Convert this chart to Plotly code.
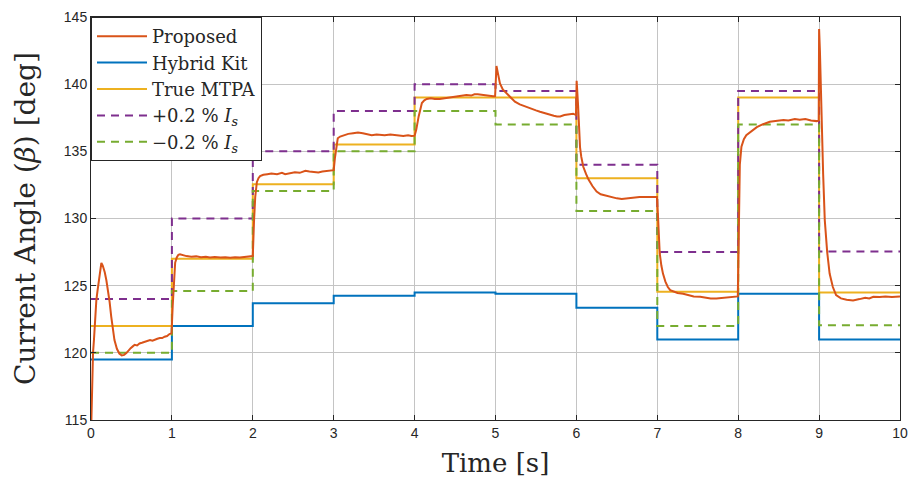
import plotly.graph_objects as go

# ---- data ----
step_t = [0, 1, 2, 3, 4, 5, 6, 7, 8, 9, 10]
hybrid_kit = [119.5, 122.0, 123.7, 124.25, 124.5, 124.4, 123.35, 121.0, 124.4, 121.0, 121.0]
true_mtpa = [122.0, 127.0, 132.55, 135.5, 139.0, 139.0, 133.0, 124.55, 139.0, 124.5, 124.5]
plus_02 = [124.0, 130.0, 135.0, 138.0, 140.0, 139.5, 134.0, 127.5, 139.5, 127.55, 127.55]
minus_02 = [120.0, 124.6, 132.05, 135.0, 138.0, 137.0, 130.55, 122.0, 137.0, 122.05, 122.05]

prop_t = [0.005, 0.012, 0.025, 0.037, 0.05, 0.066, 0.08, 0.095, 0.11, 0.128, 0.145, 0.17, 0.19, 0.21,
          0.23, 0.25, 0.27, 0.29, 0.32, 0.35, 0.38, 0.41, 0.44, 0.46, 0.49, 0.52, 0.54, 0.57, 0.6,
          0.63, 0.66, 0.7, 0.73, 0.76, 0.79, 0.82, 0.85, 0.88, 0.91, 0.94, 0.97, 0.995,
          1.01, 1.025, 1.04, 1.06, 1.08, 1.1, 1.14, 1.18, 1.24, 1.3, 1.36, 1.42, 1.47, 1.53, 1.6,
          1.66, 1.72, 1.78, 1.84, 1.9, 1.97, 2.0,
          2.015, 2.03, 2.05, 2.07, 2.09, 2.13, 2.18, 2.23, 2.3, 2.36, 2.4, 2.46, 2.52, 2.58, 2.65,
          2.7, 2.75, 2.81, 2.86, 2.92, 2.97, 3.0,
          3.015, 3.03, 3.05, 3.08, 3.12, 3.18, 3.24, 3.3, 3.36, 3.42, 3.47, 3.53, 3.58, 3.63, 3.7,
          3.76, 3.8, 3.86, 3.92, 3.96, 4.0,
          4.02, 4.05, 4.07, 4.09, 4.12, 4.15, 4.2, 4.25, 4.31, 4.36, 4.42, 4.47, 4.52, 4.58, 4.64,
          4.7, 4.74, 4.78, 4.83, 4.88, 4.93, 4.97, 4.995,
          5.005, 5.012, 5.03, 5.055, 5.09, 5.14, 5.19, 5.24, 5.3, 5.38, 5.44, 5.5, 5.55, 5.6, 5.66,
          5.72, 5.76, 5.8, 5.85, 5.9, 5.96, 5.995,
          6.003, 6.02, 6.045, 6.06, 6.085, 6.12, 6.15, 6.2, 6.25, 6.3, 6.36, 6.42, 6.5, 6.56, 6.62,
          6.66, 6.72, 6.78, 6.84, 6.91, 6.96, 6.995,
          7.01, 7.03, 7.05, 7.07, 7.1, 7.13, 7.16, 7.2, 7.25, 7.32, 7.38, 7.45, 7.53, 7.6, 7.66,
          7.73, 7.8, 7.87, 7.94, 7.995,
          8.005, 8.01, 8.02, 8.04, 8.07, 8.1, 8.16, 8.23, 8.3, 8.39, 8.46, 8.56, 8.62, 8.7, 8.76,
          8.83, 8.9, 8.97, 8.995,
          9.0, 9.01, 9.02, 9.03, 9.05, 9.07, 9.1, 9.13, 9.17, 9.21, 9.27, 9.34, 9.42, 9.5, 9.57,
          9.62, 9.67, 9.75, 9.82, 9.9, 9.96, 10.0]
prop_v = [115.0, 117.5, 120.0, 121.0, 122.6, 123.9, 124.6, 125.2, 126.0, 126.7, 126.5, 126.0, 125.4, 124.7,
          123.8, 122.7, 121.7, 120.95, 120.3, 119.95, 119.8, 119.85, 120.0, 120.15, 120.35, 120.5, 120.6, 120.55, 120.7,
          120.75, 120.8, 120.85, 120.95, 120.9, 121.0, 121.05, 121.1, 121.1, 121.2, 121.25, 121.4, 121.45,
          123.5, 125.4, 126.7, 127.1, 127.3, 127.33, 127.25, 127.2, 127.15, 127.18, 127.12, 127.15, 127.1, 127.13, 127.1,
          127.12, 127.08, 127.12, 127.1, 127.13, 127.15, 127.2,
          129.8, 131.6, 132.7, 133.0, 133.15, 133.25, 133.3, 133.35, 133.3, 133.4, 133.3, 133.4, 133.45, 133.4, 133.55,
          133.5, 133.45, 133.43, 133.5, 133.55, 133.6, 133.6,
          134.5, 135.3, 135.97, 136.1, 136.2, 136.3, 136.35, 136.4, 136.35, 136.25, 136.2, 136.25, 136.2, 136.2, 136.25,
          136.2, 136.2, 136.15, 136.2, 136.14, 136.15,
          136.6, 137.6, 138.2, 138.6, 138.8, 138.9, 138.95, 138.9, 138.9, 138.95, 139.0, 139.05, 139.07, 139.15, 139.2,
          139.15, 139.25, 139.25, 139.2, 139.15, 139.15, 139.1, 139.1,
          140.6, 141.35, 140.8, 140.06, 139.6, 139.3, 139.0, 138.7, 138.5, 138.3, 138.2, 138.05, 137.95, 137.85, 137.75,
          137.65, 137.6, 137.6, 137.7, 137.75, 137.8, 137.7,
          140.25, 138.5, 135.3, 134.6, 133.85, 133.3, 132.9, 132.4, 132.0, 131.8, 131.7, 131.6, 131.5, 131.45, 131.5,
          131.5, 131.55, 131.6, 131.6, 131.6, 131.65, 131.6,
          130.0, 127.4, 126.5, 125.9, 125.3, 124.9, 124.67, 124.55, 124.45, 124.4, 124.3, 124.2, 124.17, 124.1, 124.05,
          124.05, 124.1, 124.15, 124.17, 124.2,
          128.0, 132.4, 134.0, 135.35, 135.9, 136.2, 136.5, 136.8, 137.0, 137.2, 137.25, 137.33, 137.3, 137.4, 137.35,
          137.4, 137.3, 137.25, 137.3,
          144.1, 142.5, 140.0, 137.3, 133.3, 129.9, 127.5, 125.9, 124.9, 124.3, 124.05, 123.95, 123.9, 124.0, 124.1,
          124.05, 124.17, 124.15, 124.2, 124.15, 124.17, 124.2]

x_ticks = [0, 1, 2, 3, 4, 5, 6, 7, 8, 9, 10]
y_ticks = [115, 120, 125, 130, 135, 140, 145]

# ---- figure ----
fig = go.Figure()
fig.add_trace(go.Scatter(x=step_t, y=hybrid_kit, mode="lines", line_shape="hv",
                         line=dict(color="#0072BD", width=2), name="Hybrid Kit", legendrank=2))
fig.add_trace(go.Scatter(x=step_t, y=true_mtpa, mode="lines", line_shape="hv",
                         line=dict(color="#EDB120", width=2), name="True MTPA", legendrank=3))
fig.add_trace(go.Scatter(x=step_t, y=plus_02, mode="lines", line_shape="hv",
                         line=dict(color="#7E2F8E", width=2, dash="8px,6px"),
                         name="+0.2 % <i>I<sub>s</sub></i>", legendrank=4))
fig.add_trace(go.Scatter(x=step_t, y=minus_02, mode="lines", line_shape="hv",
                         line=dict(color="#77AC30", width=2, dash="8px,6px"),
                         name="\u22120.2 % <i>I<sub>s</sub></i>", legendrank=5))
fig.add_trace(go.Scatter(x=prop_t, y=prop_v, mode="lines",
                         line=dict(color="#D95319", width=2), name="Proposed", legendrank=1))

axis_common = dict(showline=True, linecolor="#262626", linewidth=1, mirror="ticks",
                   ticks="inside", ticklen=5, tickcolor="#262626", automargin=False,
                   showgrid=True, gridcolor="#c4c4c4", gridwidth=1, zeroline=False,
                   tickfont=dict(family="Liberation Sans, Arial", size=14, color="#262626"))

fig.update_xaxes(range=[0, 10], tickvals=x_ticks,
                 title=dict(text="Time [s]", font=dict(family="DejaVu Serif", size=26, color="#262626"),
                            standoff=14),
                 **axis_common)
fig.update_yaxes(range=[115, 145], tickvals=y_ticks,
                 title=dict(text="Current Angle (<i>β</i>) [deg]",
                            font=dict(family="DejaVu Serif", size=28, color="#262626"), standoff=20),
                 **axis_common)

fig.update_layout(
    width=909, height=484,
    margin=dict(l=91, r=9, t=17, b=64),
    plot_bgcolor="white", paper_bgcolor="white",
    legend=dict(x=0, y=1, xanchor="left", yanchor="top",
                bgcolor="white", bordercolor="#262626", borderwidth=1,
                font=dict(family="DejaVu Serif", size=18, color="#262626"),
                itemwidth=50, tracegroupgap=0),
    showlegend=True,
)

fig.write_html("out.html")
